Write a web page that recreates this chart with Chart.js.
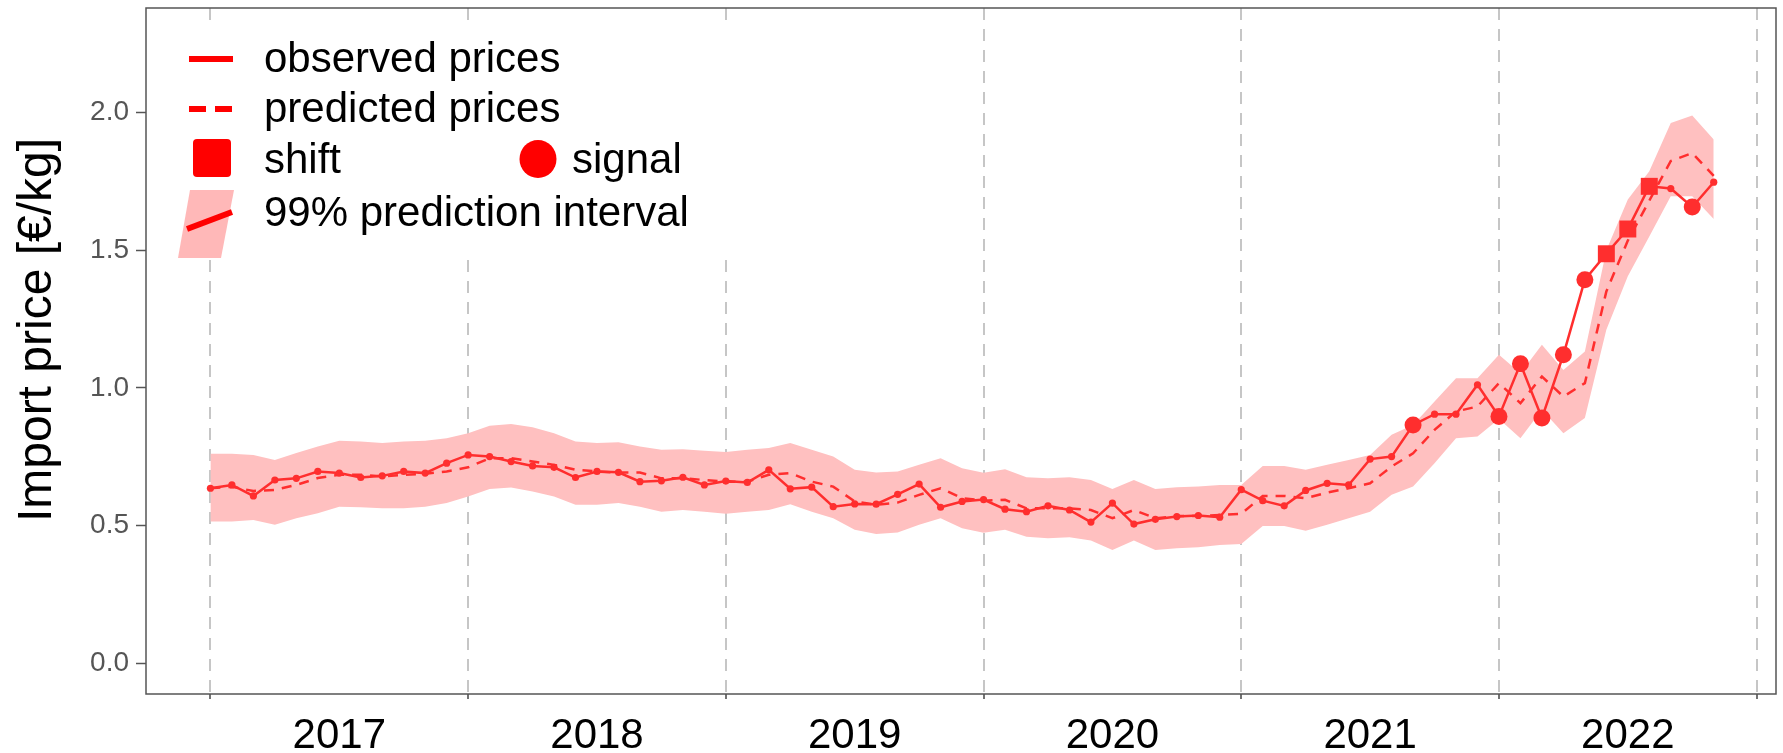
<!DOCTYPE html>
<html>
<head>
<meta charset="utf-8">
<script src="https://cdn.jsdelivr.net/npm/chart.js@4.4.1/dist/chart.umd.min.js"></script>
<style>
  html, body { margin: 0; padding: 0; background: #fff; }
  #wrap { width: 1783px; height: 753px; position: relative; }
</style>
</head>
<body>
<div id="wrap"><canvas id="priceChart"></canvas></div>
<script>
// ==========================================
// DATA (monthly, Jan 2017 - Nov 2022)
// ==========================================

const months = [
    '2017-01','2017-02','2017-03','2017-04','2017-05','2017-06','2017-07','2017-08','2017-09','2017-10','2017-11','2017-12',
    '2018-01','2018-02','2018-03','2018-04','2018-05','2018-06','2018-07','2018-08','2018-09','2018-10','2018-11','2018-12',
    '2019-01','2019-02','2019-03','2019-04','2019-05','2019-06','2019-07','2019-08','2019-09','2019-10','2019-11','2019-12',
    '2020-01','2020-02','2020-03','2020-04','2020-05','2020-06','2020-07','2020-08','2020-09','2020-10','2020-11','2020-12',
    '2021-01','2021-02','2021-03','2021-04','2021-05','2021-06','2021-07','2021-08','2021-09','2021-10','2021-11','2021-12',
    '2022-01','2022-02','2022-03','2022-04','2022-05','2022-06','2022-07','2022-08','2022-09','2022-10','2022-11'
];

const observed = [
    0.635, 0.647, 0.607, 0.665, 0.671, 0.696, 0.690, 0.674, 0.680, 0.696, 0.690, 0.726,
    0.756, 0.750, 0.732, 0.716, 0.711, 0.674, 0.696, 0.693, 0.659, 0.662, 0.675, 0.647,
    0.661, 0.656, 0.702, 0.633, 0.639, 0.568, 0.578, 0.577, 0.613, 0.650, 0.566, 0.587,
    0.594, 0.559, 0.550, 0.571, 0.556, 0.512, 0.581, 0.505, 0.522, 0.532, 0.536, 0.530,
    0.630, 0.590, 0.571, 0.627, 0.653, 0.647, 0.741, 0.750, 0.865, 0.904, 0.904, 1.011,
    0.896, 1.087, 0.890, 1.120, 1.393, 1.487, 1.577, 1.732, 1.724, 1.657, 1.747
];

const predicted = [
    0.635, 0.640, 0.625, 0.629, 0.647, 0.672, 0.684, 0.684, 0.678, 0.684, 0.688, 0.696,
    0.711, 0.744, 0.744, 0.732, 0.720, 0.702, 0.696, 0.692, 0.692, 0.671, 0.671, 0.665,
    0.659, 0.659, 0.684, 0.690, 0.659, 0.641, 0.587, 0.575, 0.583, 0.611, 0.635, 0.599,
    0.590, 0.593, 0.562, 0.562, 0.562, 0.556, 0.526, 0.556, 0.526, 0.534, 0.534, 0.538,
    0.542, 0.607, 0.607, 0.599, 0.619, 0.635, 0.653, 0.714, 0.762, 0.847, 0.914, 0.932,
    1.017, 0.944, 1.041, 0.968, 1.017, 1.350, 1.535, 1.680, 1.824, 1.853, 1.770
];

const upper99 = [
    0.760, 0.760, 0.756, 0.738, 0.763, 0.787, 0.808, 0.805, 0.799, 0.805, 0.808, 0.817,
    0.835, 0.862, 0.868, 0.857, 0.835, 0.805, 0.799, 0.802, 0.787, 0.775, 0.777, 0.771,
    0.767, 0.775, 0.781, 0.799, 0.775, 0.750, 0.702, 0.692, 0.696, 0.720, 0.744, 0.708,
    0.691, 0.704, 0.675, 0.671, 0.675, 0.665, 0.632, 0.665, 0.632, 0.639, 0.641, 0.647,
    0.647, 0.716, 0.716, 0.702, 0.720, 0.738, 0.756, 0.829, 0.865, 0.950, 1.035, 1.035,
    1.120, 1.053, 1.156, 1.065, 1.132, 1.500, 1.684, 1.787, 1.962, 1.989, 1.902
];

const lower99 = [
    0.514, 0.514, 0.520, 0.502, 0.526, 0.544, 0.568, 0.566, 0.562, 0.562, 0.568, 0.581,
    0.605, 0.632, 0.638, 0.623, 0.605, 0.575, 0.575, 0.581, 0.568, 0.550, 0.556, 0.550,
    0.542, 0.550, 0.556, 0.577, 0.550, 0.526, 0.484, 0.469, 0.474, 0.502, 0.526, 0.490,
    0.473, 0.484, 0.459, 0.453, 0.457, 0.445, 0.411, 0.445, 0.411, 0.417, 0.421, 0.429,
    0.432, 0.498, 0.498, 0.481, 0.502, 0.526, 0.550, 0.611, 0.641, 0.726, 0.817, 0.823,
    0.887, 0.817, 0.920, 0.835, 0.890, 1.211, 1.405, 1.550, 1.696, 1.696, 1.613
];

const shiftMonths = ['2022-06', '2022-07', '2022-08'];
const signalMonths = ['2021-09', '2022-01', '2022-02', '2022-03', '2022-04', '2022-05', '2022-10'];

const yearLabels = ['2017', '2018', '2019', '2020', '2021', '2022'];
const xTickValues = [0, 6, 12, 18, 24, 30, 36, 42, 48, 54, 60, 66, 72]; // year starts + mid-years
const yTickValues = [0, 0.5, 1.0, 1.5, 2.0];
const yTitle = 'Import price [€/kg]';

// ==========================================
// HELPERS
// ==========================================

const RED = '#FF2E2E';
const BAND = '#FFC0C0';
const FONT = '"Liberation Sans", Arial, sans-serif';

// month label -> months since Jan 2017
function monthIndex(m) {
    const parts = m.split('-').map(Number);
    return (parts[0] - 2017) * 12 + (parts[1] - 1);
}

function toPoints(values) {
    return months.map((m, i) => ({ x: monthIndex(m), y: values[i] }));
}

function markerType(i) {
    if (shiftMonths.includes(months[i])) return 'shift';
    if (signalMonths.includes(months[i])) return 'signal';
    return 'plain';
}

// ==========================================
// PANEL BORDER, AXIS TITLE + LEGEND PLUGIN
// ==========================================

const panelPlugin = {
    id: 'panelPlugin',
    beforeDraw(chart) {
        const ctx = chart.ctx;
        ctx.save();
        ctx.fillStyle = '#fff';
        ctx.fillRect(0, 0, chart.width, chart.height);
        ctx.restore();
    },
    afterDatasetsDraw(chart) {
        const ctx = chart.ctx;
        const a = chart.chartArea;
        const L = a.left, T = a.top;
        ctx.save();

        // legend background (hides grid lines)
        ctx.fillStyle = '#fff';
        ctx.fillRect(L + 4, T + 14, 590, 238);

        ctx.font = '42px ' + FONT;
        ctx.textBaseline = 'alphabetic';
        ctx.textAlign = 'left';

        // observed prices
        ctx.strokeStyle = '#FF0000';
        ctx.lineWidth = 6;
        ctx.beginPath();
        ctx.moveTo(L + 43, T + 51); ctx.lineTo(L + 87, T + 51);
        ctx.stroke();
        ctx.fillStyle = '#000';
        ctx.fillText('observed prices', L + 118, T + 64);

        // predicted prices
        ctx.setLineDash([17, 9]);
        ctx.beginPath();
        ctx.moveTo(L + 43, T + 101); ctx.lineTo(L + 87, T + 101);
        ctx.stroke();
        ctx.setLineDash([]);
        ctx.fillText('predicted prices', L + 118, T + 114);

        // shift square
        ctx.fillStyle = '#FF0000';
        ctx.beginPath();
        if (ctx.roundRect) ctx.roundRect(L + 47, T + 131, 38, 38, 4);
        else ctx.rect(L + 47, T + 131, 38, 38);
        ctx.fill();
        ctx.fillStyle = '#000';
        ctx.fillText('shift', L + 118, T + 165);

        // signal circle
        ctx.fillStyle = '#FF0000';
        ctx.beginPath();
        ctx.ellipse(L + 392, T + 151, 18.5, 19, 0, 0, Math.PI * 2);
        ctx.fill();
        ctx.fillStyle = '#000';
        ctx.fillText('signal', L + 426, T + 165);

        // prediction interval
        ctx.fillStyle = '#FFB8B8';
        ctx.beginPath();
        ctx.moveTo(L + 44, T + 182);
        ctx.lineTo(L + 88, T + 182);
        ctx.lineTo(L + 75, T + 250);
        ctx.lineTo(L + 32, T + 250);
        ctx.closePath();
        ctx.fill();
        ctx.strokeStyle = '#FF0000';
        ctx.lineWidth = 6;
        ctx.beginPath();
        ctx.moveTo(L + 41, T + 221); ctx.lineTo(L + 86, T + 204);
        ctx.stroke();
        ctx.fillStyle = '#000';
        ctx.fillText('99% prediction interval', L + 118, T + 218);

        // panel border
        ctx.strokeStyle = '#555';
        ctx.lineWidth = 1.5;
        ctx.strokeRect(a.left, a.top, a.right - a.left, a.bottom - a.top);

        // y axis title
        ctx.translate(L - 108, (a.top + a.bottom) / 2 - 21);
        ctx.rotate(-Math.PI / 2);
        ctx.font = '48px ' + FONT;
        ctx.fillStyle = '#000';
        ctx.textAlign = 'center';
        ctx.textBaseline = 'middle';
        ctx.fillText(yTitle, 0, 0);
        ctx.restore();
    }
};

// ==========================================
// CHART
// ==========================================

function initPriceChart() {
    const ctx = document.getElementById('priceChart');
    if (!ctx) return;

    new Chart(ctx, {
        type: 'line',
        data: {
            datasets: [
                {
                    label: 'observed prices',
                    data: toPoints(observed),
                    borderColor: RED,
                    backgroundColor: RED,
                    borderWidth: 2.5,
                    tension: 0,
                    fill: false,
                    pointBackgroundColor: RED,
                    pointBorderWidth: 0,
                    pointStyle: c => markerType(c.dataIndex) === 'shift' ? 'rect' : 'circle',
                    pointRadius: c => {
                        const t = markerType(c.dataIndex);
                        if (t === 'shift') return 12;
                        if (t === 'signal') return 8.5;
                        return 3.6;
                    }
                },
                {
                    label: 'predicted prices',
                    data: toPoints(predicted),
                    borderColor: RED,
                    borderWidth: 2.5,
                    borderDash: [10, 8],
                    tension: 0,
                    fill: false,
                    pointRadius: 0
                },
                {
                    label: '99% upper',
                    data: toPoints(upper99),
                    borderWidth: 0,
                    borderColor: 'rgba(0,0,0,0)',
                    backgroundColor: BAND,
                    fill: '+1',
                    tension: 0,
                    pointRadius: 0
                },
                {
                    label: '99% lower',
                    data: toPoints(lower99),
                    borderWidth: 0,
                    borderColor: 'rgba(0,0,0,0)',
                    fill: false,
                    tension: 0,
                    pointRadius: 0
                }
            ]
        },
        options: {
            responsive: true,
            maintainAspectRatio: false,
            animation: false,
            layout: { padding: { left: 0, right: 7, top: 8, bottom: 0 } },
            plugins: {
                legend: { display: false },
                tooltip: { enabled: false }
            },
            scales: {
                x: {
                    type: 'linear',
                    min: -3,
                    max: 72.9,
                    afterBuildTicks: s => { s.ticks = xTickValues.map(v => ({ value: v })); },
                    afterFit: s => {
                        s.height = 59;
                        s.paddingLeft = 0; s.paddingRight = 0;
                    },
                    ticks: {
                        autoSkip: false,
                        maxRotation: 0,
                        padding: 12,
                        color: '#000',
                        font: { family: FONT, size: 42 },
                        callback: v => (v % 12 === 6 ? yearLabels[(v - 6) / 12] : '')
                    },
                    grid: {
                        color: c => (c.tick && c.tick.value % 12 === 0 ? '#C6C6C6' : 'rgba(0,0,0,0)'),
                        lineWidth: 2,
                        tickColor: c => (c.tick && c.tick.value % 12 === 0 ? '#444' : 'rgba(0,0,0,0)'),
                        tickLength: 5,
                        tickWidth: 1.5
                    },
                    border: { display: false, dash: [12, 9] }
                },
                y: {
                    type: 'linear',
                    min: -0.1126,
                    max: 2.38,
                    afterBuildTicks: s => { s.ticks = yTickValues.map(v => ({ value: v })); },
                    afterFit: s => {
                        s.width = 146;
                        s.paddingTop = 0; s.paddingBottom = 0;
                    },
                    ticks: {
                        padding: 7,
                        color: '#555',
                        font: { family: FONT, size: 28 },
                        callback: v => Number(v).toFixed(1)
                    },
                    grid: {
                        drawOnChartArea: false,
                        tickLength: 10,
                        tickColor: '#555',
                        tickWidth: 1.5
                    },
                    border: { display: false },
                    title: { display: false }
                }
            }
        },
        plugins: [panelPlugin]
    });
}

document.addEventListener('DOMContentLoaded', initPriceChart);
</script>
</body>
</html>
